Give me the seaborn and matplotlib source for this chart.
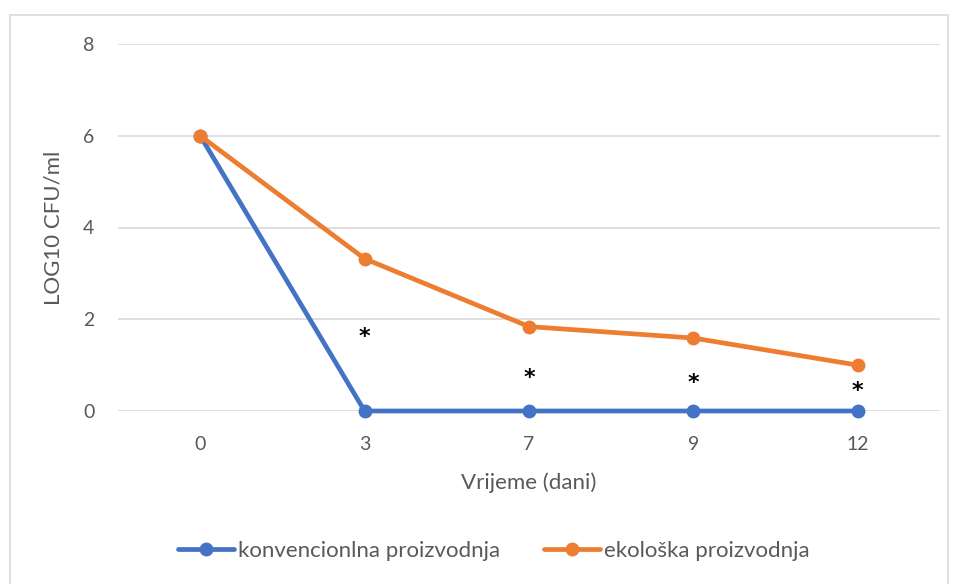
import pandas as pd
import matplotlib
matplotlib.use("Agg")
import matplotlib.pyplot as plt
import seaborn as sns
from matplotlib.patches import Rectangle

# Data
days = ["0", "3", "7", "9", "12"]
konvencionalna = [6.0, 0.0, 0.0, 0.0, 0.0]
ekoloska = [6.0, 3.32, 1.84, 1.59, 1.0]
star_y = [1.62, 0.72, 0.62, 0.44]   # significance marks at days 3, 7, 9, 12
series_names = ["konvencionlna proizvodnja", "ekološka proizvodnja"]

df = pd.DataFrame({
    "dan": days * 2,
    "log": konvencionalna + ekoloska,
    "serija": [series_names[0]] * len(days) + [series_names[1]] * len(days),
})

sns.set_theme(style="white")
plt.rcParams["font.family"] = ["Lato", "DejaVu Sans"]
grey = "#595959"

fig = plt.figure(figsize=(9.57, 5.84), dpi=100)
ax = fig.add_axes([118 / 957, 1 - 411 / 584, (940 - 118) / 957, (411 - 44) / 584])

sns.lineplot(data=df, x="dan", y="log", hue="serija",
             palette=["#4472C4", "#ED7D31"], marker="o", markersize=10,
             markeredgewidth=0, linewidth=3.4, sort=False, ax=ax, clip_on=False)

# asterisks above the conventional series
for i, y in enumerate(star_y):
    ax.text(days[i + 1], y, "*", ha="center", va="center", fontsize=16,
            color="black", family="DejaVu Sans", fontweight="bold")

ax.set_xlim(-0.5, 4.5)
ax.set_ylim(0, 8)
ax.set_yticks([0, 2, 4, 6, 8])
ax.grid(axis="y", color="#D9D9D9", linewidth=1.2)
ax.grid(axis="x", visible=False)
ax.set_axisbelow(True)
for s in ax.spines.values():
    s.set_visible(False)
ax.tick_params(axis="both", length=0, labelsize=14, labelcolor=grey)
ax.tick_params(axis="y", pad=17)
ax.tick_params(axis="x", pad=18)
ax.set_xlabel("Vrijeme (dani)", fontsize=16, color=grey, labelpad=14)
ax.set_ylabel("LOG10 CFU/ml", fontsize=16, color=grey, labelpad=14)

handles, labels = ax.get_legend_handles_labels()
ax.legend(handles, labels, loc="center", bbox_to_anchor=(0.516, 1 - 551 / 584),
          bbox_transform=fig.transFigure, ncol=2, frameon=False, fontsize=16,
          handlelength=2.5, handletextpad=0.18, columnspacing=2.0,
          labelcolor=grey)

# outer chart border like the Excel chart area
fig.patches.append(Rectangle((10 / 957, -0.05), (948 - 10) / 957, 1.05 - 15 / 584,
                             transform=fig.transFigure, fill=False,
                             edgecolor="#D9D9D9", linewidth=1.2))

fig.savefig("out.png", dpi=100)
